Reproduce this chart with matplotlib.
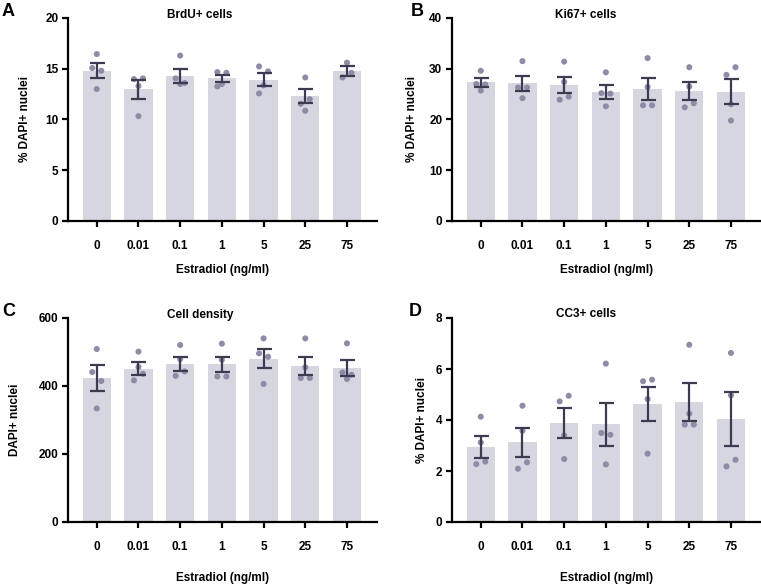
import matplotlib
matplotlib.use("Agg")
import matplotlib.pyplot as plt
import numpy as np

plt.rcParams['font.family'] = ['Liberation Sans', 'DejaVu Sans']
plt.rcParams['font.weight'] = 'bold'

categories = ["0", "0.01", "0.1", "1", "5", "25", "75"]

# Panel A: BrdU+ cells
a_mean = [14.82, 12.97, 14.31, 14.07, 13.93, 12.33, 14.74]
a_sem = [0.74, 0.94, 0.69, 0.33, 0.67, 0.72, 0.49]
a_pts = [[16.45, 15.07, 14.8, 13.0], [13.98, 14.05, 13.3, 10.33],
         [16.3, 14.05, 13.5, 13.6], [14.67, 14.6, 13.26, 13.5],
         [15.23, 14.74, 13.36, 12.57], [14.14, 12.0, 11.55, 10.86],
         [15.6, 14.6, 14.14]]
a_off = [[0, -1, 1, 0], [-1, 1, 0, 0], [0, -1, 0, 1], [-1, 1, -1, 0],
         [-1, 1, 0, -1], [0, 1, -1, 0], [0, 1, -1]]

# Panel B: Ki67+ cells
b_mean = [27.3, 27.1, 26.75, 25.46, 25.99, 25.6, 25.46]
b_sem = [0.85, 1.52, 1.6, 1.37, 2.22, 1.75, 2.48]
b_pts = [[29.6, 27.0, 26.9, 25.7], [31.5, 26.3, 26.3, 24.2],
         [31.4, 27.4, 23.9, 24.5], [29.3, 25.2, 25.1, 22.6],
         [32.1, 26.4, 22.8, 22.8], [30.3, 26.5, 22.4, 23.2],
         [30.3, 28.8, 23.0, 19.8]]
b_off = [[0, -1, 1, 0], [0, -1, 1, 0], [0, 0, -1, 1], [0, -1, 1, 0],
         [0, 0, -1, 1], [0, 0, -1, 1], [1, -1, 0, 0]]

# Panel C: Cell density
c_mean = [423.5, 451, 465.7, 463.7, 480.4, 458.8, 453]
c_sem = [36.9, 18.3, 20.5, 23, 28.4, 26.5, 23.5]
c_pts = [[508.8, 441, 414.7, 334], [501, 456, 436, 416.7],
         [520.6, 479, 430, 443], [524.5, 477, 428, 428],
         [540, 496, 486, 406], [540, 455, 423.5, 423.5],
         [525.5, 440, 420.6, 433]]
c_off = [[0, -1, 1, 0], [0, 0, 1, -1], [0, 0, -1, 1], [0, 0, -1, 1],
         [0, -1, 1, 0], [0, 0, -1, 1], [0, -1, 0, 1]]

# Panel D: CC3+ cells
d_mean = [2.95, 3.12, 3.87, 3.84, 4.63, 4.69, 4.04]
d_sem = [0.435, 0.575, 0.585, 0.845, 0.675, 0.745, 1.065]
d_pts = [[4.13, 3.12, 2.27, 2.37], [4.56, 3.58, 2.09, 2.34],
         [4.95, 4.73, 3.40, 2.47], [6.21, 3.49, 3.42, 2.26],
         [5.52, 5.58, 4.82, 2.68], [6.95, 4.25, 3.82, 3.82],
         [6.63, 4.97, 2.18, 2.44]]
d_off = [[0, 0, -1, 1], [0, 0, -1, 1], [1, -1, 0, 0], [0, -1, 1, 0],
         [-1, 1, 0, 0], [0, 0, -1, 1], [0, 0, -1, 1]]

W, H = 761, 586
fig = plt.figure(figsize=(W / 100, H / 100), dpi=100)

BAR = "#d6d6e0"
DOT = "#8e8ba6"
ERR = "#3b3b52"

panels = [
    dict(letter="A", title="BrdU+ cells", ylabel="% DAPI+ nuclei", mean=a_mean, sem=a_sem,
         pts=a_pts, off=a_off, yticks=[0, 5, 10, 15, 20],
         box=(68, 18, 377, 221), title_xy=(200, 15), letter_xy=(2, 11), ylab_x=25, xlab_y=270),
    dict(letter="B", title="Ki67+ cells", ylabel="% DAPI+ nuclei", mean=b_mean, sem=b_sem,
         pts=b_pts, off=b_off, yticks=[0, 10, 20, 30, 40],
         box=(452, 18, 761, 221), title_xy=(586, 15), letter_xy=(411, 11), ylab_x=412, xlab_y=270),
    dict(letter="C", title="Cell density", ylabel="DAPI+ nuclei", mean=c_mean, sem=c_sem,
         pts=c_pts, off=c_off, yticks=[0, 200, 400, 600],
         box=(68, 318, 377, 522), title_xy=(200, 315), letter_xy=(2, 311), ylab_x=15, xlab_y=578),
    dict(letter="D", title="CC3+ cells", ylabel="% DAPI+ nuclei", mean=d_mean, sem=d_sem,
         pts=d_pts, off=d_off, yticks=[0, 2, 4, 6, 8],
         box=(452, 318, 761, 522), title_xy=(586, 314), letter_xy=(409, 311), ylab_x=422, xlab_y=578),
]

JIT = 0.108
x = np.arange(len(categories))

for p in panels:
    l, t, r, b = p["box"]
    ax = fig.add_axes([l / W, 1 - b / H, (r - l) / W, (b - t) / H])
    ax.bar(x, p["mean"], width=0.68, color=BAR, zorder=1)
    for i, (vals, offs) in enumerate(zip(p["pts"], p["off"])):
        xs = [i + o * JIT for o in offs]
        ax.scatter(xs, vals, s=19, color=DOT, edgecolors='none', zorder=2)
    ax.errorbar(x, p["mean"], yerr=p["sem"], fmt='none', ecolor=ERR, elinewidth=1.6,
                capsize=5.4, capthick=1.6, zorder=3)
    ax.set_xlim(-0.69, 6.72)
    ax.set_ylim(0, p["yticks"][-1])
    ax.set_yticks(p["yticks"])
    ax.set_xticks(x)
    ax.set_xticklabels(categories)
    for s in ["top", "right"]:
        ax.spines[s].set_visible(False)
    for s in ["left", "bottom"]:
        ax.spines[s].set_linewidth(1.6)
    ax.tick_params(axis='x', length=4.5, width=1.6, pad=9, labelsize=8.5)
    ax.tick_params(axis='y', length=4, width=1.6, pad=3, labelsize=8.5)
    for lab in ax.get_xticklabels() + ax.get_yticklabels():
        lab.set_fontweight('bold')
    tx, ty = p["title_xy"]
    fig.text(tx / W, 1 - ty / H, p["title"], ha='center', va='center', fontsize=8.5, fontweight='bold')
    lx, ly = p["letter_xy"]
    fig.text(lx / W, 1 - ly / H, p["letter"], ha='left', va='center', fontsize=13, fontweight='bold')
    fig.text(p["ylab_x"] / W, 1 - ((t + b) / 2) / H, p["ylabel"], rotation=90, ha='center', va='center',
             fontsize=8.5, fontweight='bold')
    fig.text(((l + r) / 2) / W, 1 - p["xlab_y"] / H, "Estradiol (ng/ml)", ha='center', va='center',
             fontsize=8.5, fontweight='bold')

fig.savefig("out.png", dpi=100)
